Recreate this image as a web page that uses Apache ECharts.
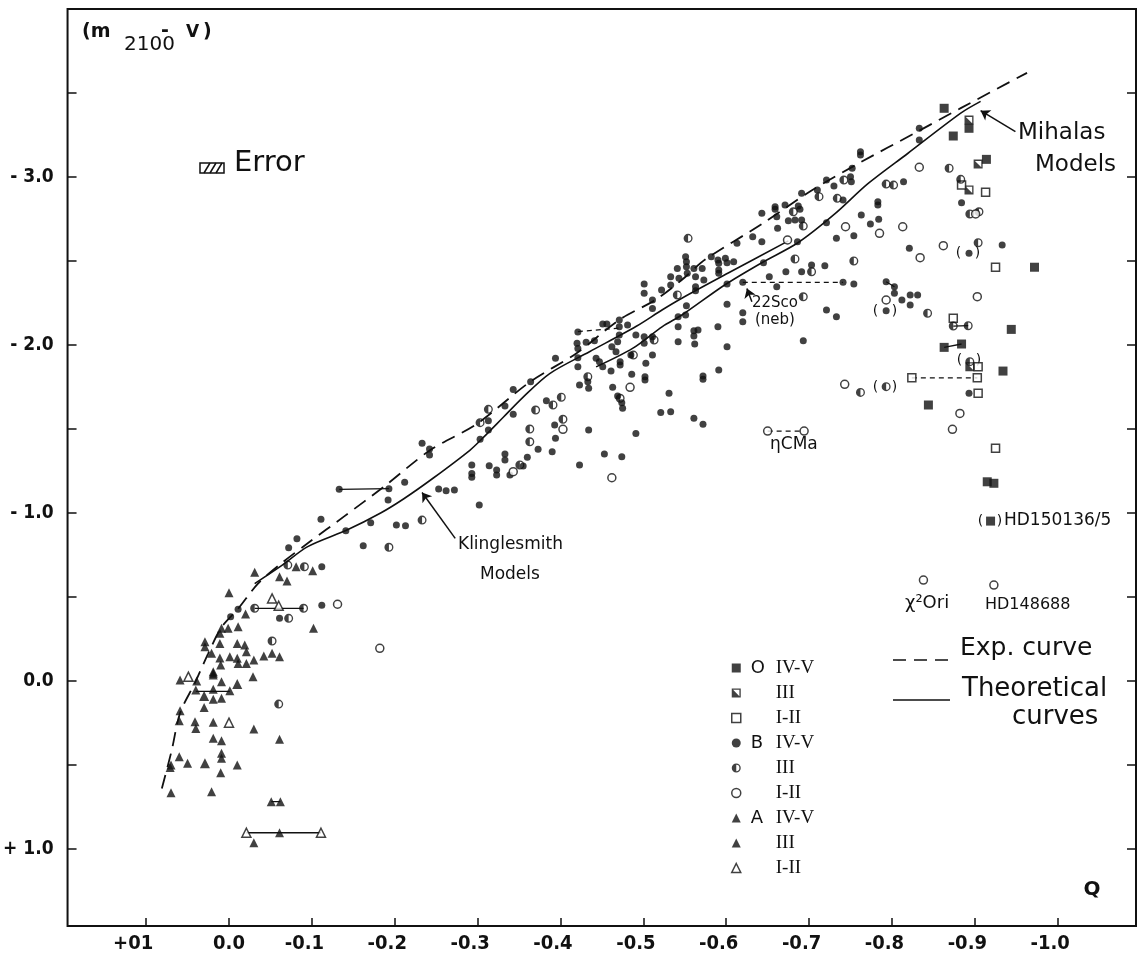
<!DOCTYPE html>
<html>
<head>
<meta charset="utf-8">
<script src="https://cdn.jsdelivr.net/npm/echarts@6/dist/echarts.min.js"></script>
<style>
html, body { margin: 0; padding: 0; background: #fff; }
#chart { width: 1148px; height: 960px; }
</style>
</head>
<body>
<div id="chart"></div>
<script>
// axis ticks
const xTickValues = [0.1, 0, -0.1, -0.2, -0.3, -0.4, -0.5, -0.6, -0.7, -0.8, -0.9, -1.0];
const xTickLabels = ['+01', '0.0', '-0.1', '-0.2', '-0.3', '-0.4', '-0.5', '-0.6', '-0.7', '-0.8', '-0.9', '-1.0'];
const yTickValues = [-3.5, -3.0, -2.5, -2.0, -1.5, -1.0, -0.5, 0, 0.5, 1.0];
const yLabelValues = [-3.0, -2.0, -1.0, 0, 1.0];
const yTickLabels = ['- 3.0', '- 2.0', '- 1.0', '0.0', '+ 1.0'];

// O stars  [Q, m2100-V]
const oDwarfs = [[-0.863,-3.409],[-0.874,-3.244],[-0.893,-3.290],[-0.914,-3.105],[-0.972,-2.463],[-0.944,-2.093],
  [-0.863,-1.986],[-0.884,-2.006],[-0.934,-1.845],[-0.844,-1.643],[-0.915,-1.186],[-0.923,-1.177],[-0.919,-0.952]];
const oGiants = [[-0.893,-3.339],[-0.904,-3.077],[-0.893,-2.923],[-0.894,-1.871]];
const oSupergiants = [[-0.884,-2.952],[-0.913,-2.909],[-0.925,-2.463],[-0.874,-2.159],[-0.904,-1.871],[-0.824,-1.805],
  [-0.903,-1.805],[-0.904,-1.713],[-0.925,-1.385]];

// B stars
const bDwarfs = [
  [-0.133,-1.141],[-0.193,-1.145],[-0.192,-1.077],[-0.111,-0.963],[-0.171,-0.942],[-0.202,-0.929],[-0.141,-0.895],
  [-0.082,-0.847],[-0.072,-0.793],[-0.162,-0.805],[-0.112,-0.680],[-0.112,-0.451],[-0.061,-0.373],[-0.002,-0.383],[-0.011,-0.427],
  [-0.212,-1.183],[-0.233,-1.415],[-0.242,-1.381],[-0.242,-1.345],[-0.213,-0.924],[-0.253,-1.143],[-0.262,-1.133],[-0.272,-1.137],
  [-0.302,-1.048],[-0.293,-1.286],[-0.293,-1.236],[-0.293,-1.213],[-0.314,-1.282],[-0.323,-1.256],[-0.323,-1.226],[-0.303,-1.439],
  [-0.313,-1.494],[-0.313,-1.549],
  [-0.333,-1.637],[-0.343,-1.736],[-0.364,-1.782],[-0.343,-1.588],[-0.383,-1.668],[-0.394,-1.921],[-0.421,-2.077],[-0.420,-2.010],
  [-0.421,-1.980],[-0.431,-2.016],[-0.441,-2.026],[-0.421,-1.924],[-0.421,-1.871],[-0.451,-2.125],[-0.456,-2.125],[-0.471,-2.149],
  [-0.471,-2.109],[-0.481,-2.119],[-0.471,-2.060],[-0.469,-2.020],[-0.462,-1.990],[-0.467,-1.960],[-0.443,-1.921],[-0.447,-1.901],
  [-0.451,-1.871],[-0.433,-1.782],[-0.434,-1.742],[-0.423,-1.762],[-0.472,-1.901],[-0.472,-1.881],[-0.485,-1.940],[-0.461,-1.845],
  [-0.486,-1.826],[-0.463,-1.748],[-0.502,-1.811],[-0.502,-1.792],[-0.501,-2.049],[-0.501,-2.010],[-0.491,-2.060],[-0.511,-2.049],
  [-0.511,-1.940],[-0.501,-2.308],[-0.511,-2.268],[-0.501,-2.363],[-0.511,-2.218],[-0.522,-2.327],[-0.533,-2.407],[-0.543,-2.397],
  [-0.533,-2.357],[-0.542,-2.168],[-0.542,-2.109],[-0.542,-2.020],[-0.531,-1.713],[-0.521,-1.599],[-0.533,-1.603],[-0.491,-1.474],
  [-0.469,-1.696],[-0.474,-1.657],[-0.475,-1.623],[-0.434,-1.494],[-0.393,-1.524],[-0.394,-1.445],[-0.373,-1.379],[-0.390,-1.365],
  [-0.360,-1.332],[-0.333,-1.351],[-0.333,-1.315],[-0.355,-1.280],[-0.339,-1.226],[-0.423,-1.286],[-0.453,-1.351],[-0.474,-1.335],
  [-0.833,-3.290],[-0.833,-3.220],[-0.762,-3.151],[-0.762,-3.131],[-0.752,-3.052],[-0.750,-3.002],[-0.751,-2.972],[-0.721,-2.982],
  [-0.730,-2.946],[-0.741,-2.863],[-0.710,-2.923],[-0.691,-2.903],[-0.814,-2.972],[-0.783,-2.853],[-0.783,-2.833],[-0.763,-2.774],
  [-0.774,-2.720],[-0.784,-2.748],[-0.754,-2.651],[-0.733,-2.635],[-0.721,-2.728],[-0.821,-2.576],[-0.659,-2.823],[-0.659,-2.808],
  [-0.671,-2.833],[-0.643,-2.784],[-0.661,-2.764],[-0.687,-2.827],[-0.689,-2.808],[-0.675,-2.740],[-0.683,-2.744],[-0.691,-2.744],
  [-0.662,-2.695],[-0.686,-2.615],[-0.632,-2.645],[-0.643,-2.615],[-0.613,-2.605],[-0.582,-2.526],[-0.590,-2.506],[-0.591,-2.486],
  [-0.599,-2.516],[-0.601,-2.490],[-0.609,-2.496],[-0.551,-2.526],[-0.552,-2.496],[-0.552,-2.466],[-0.541,-2.456],[-0.563,-2.407],
  [-0.561,-2.456],[-0.571,-2.456],[-0.573,-2.387],[-0.553,-2.427],[-0.591,-2.446],[-0.591,-2.427],[-0.563,-2.347],[-0.563,-2.323],
  [-0.552,-2.234],[-0.551,-2.179],[-0.561,-2.085],[-0.566,-2.089],[-0.561,-2.054],[-0.562,-2.006],[-0.590,-2.109],[-0.601,-2.242],
  [-0.601,-1.990],[-0.591,-1.851],[-0.572,-1.815],[-0.645,-2.490],[-0.601,-2.363],[-0.652,-2.407],[-0.620,-2.373],[-0.661,-2.347],
  [-0.672,-2.436],[-0.691,-2.436],[-0.703,-2.476],[-0.719,-2.472],[-0.741,-2.373],[-0.754,-2.363],[-0.620,-2.192],[-0.620,-2.139],
  [-0.721,-2.208],[-0.733,-2.168],[-0.693,-2.026],[-0.793,-2.377],[-0.803,-2.347],[-0.803,-2.308],[-0.793,-2.204],[-0.812,-2.268],
  [-0.822,-2.298],[-0.822,-2.238],[-0.831,-2.298],
  [-0.884,-2.847],[-0.893,-2.546],[-0.933,-2.595],[-0.893,-1.713],
  [-0.561,-1.564],[-0.572,-1.528],[-0.572,-1.796],[-0.503,-1.891]];
const bGiants = [
  [-0.060,0.137],[-0.193,-0.796],[-0.071,-0.690],[-0.091,-0.680],[-0.031,-0.433],[-0.090,-0.433],[-0.072,-0.373],[-0.052,-0.238],
  [-0.233,-0.958],[-0.303,-1.538],[-0.313,-1.617],
  [-0.370,-1.613],[-0.391,-1.643],[-0.401,-1.689],[-0.433,-1.811],[-0.513,-2.030],[-0.541,-2.298],[-0.472,-1.683],[-0.403,-1.558],
  [-0.363,-1.500],[-0.363,-1.424],[-0.351,-1.286],[-0.488,-1.940],
  [-0.742,-2.982],[-0.734,-2.873],[-0.712,-2.883],[-0.793,-2.958],[-0.802,-2.952],[-0.681,-2.793],[-0.693,-2.708],[-0.554,-2.635],
  [-0.683,-2.512],[-0.703,-2.436],[-0.754,-2.500],[-0.693,-2.287],[-0.843,-2.189],
  [-0.869,-3.052],[-0.883,-2.986],[-0.894,-2.780],[-0.905,-2.793],[-0.904,-2.609],[-0.874,-2.113],[-0.892,-2.115],[-0.894,-1.901],
  [-0.762,-1.718],[-0.793,-1.752]];
const bSupergiants = [
  [-0.131,-0.457],[-0.182,-0.195],[-0.403,-1.498],[-0.343,-1.246],[-0.484,-1.748],[-0.462,-1.210],
  [-0.833,-3.058],[-0.785,-2.665],[-0.813,-2.704],[-0.744,-2.704],[-0.834,-2.520],[-0.862,-2.591],[-0.674,-2.625],[-0.793,-2.268],
  [-0.901,-2.780],[-0.903,-2.288],[-0.882,-1.593],[-0.873,-1.498],
  [-0.743,-1.766],[-0.650,-1.488],[-0.694,-1.488],[-0.838,-0.601],[-0.923,-0.571]];

// A stars
const aDwarfs = [
  [0.021,-0.165],[0.011,-0.137],[0.010,-0.095],[-0.001,-0.145],[-0.010,-0.135],[-0.011,-0.105],[-0.021,-0.174],[-0.021,-0.105],
  [-0.030,-0.125],[-0.042,-0.149],[-0.052,-0.165],[-0.061,-0.145],[0.019,-0.055],[0.019,-0.036],[-0.029,-0.026],[0.059,-0.006],
  [0.039,0.000],[0.009,0.004],[0.040,0.054],[0.019,0.049],[-0.001,0.058],[0.019,0.109],[0.009,0.103],
  [0.030,0.157],[0.059,0.177],[0.060,0.236],[0.041,0.242],[0.040,0.282],[0.019,0.246],[-0.030,0.286],[0.019,0.341],[0.009,0.355],
  [-0.061,0.347],[0.009,0.430],[0.009,0.460],[0.060,0.451],[0.050,0.490],[0.070,0.500],[0.071,0.514],[-0.010,0.500],
  [0.010,0.546],[0.070,0.665],[0.021,0.659],[-0.051,0.718],[-0.062,0.718],[-0.061,0.903],[-0.030,0.963],
  [-0.081,-0.680],[-0.101,-0.657],[-0.061,-0.621],[-0.070,-0.595],[-0.031,-0.647],[0.000,-0.526],[-0.020,-0.399],[-0.011,-0.323],
  [0.009,-0.314],[0.001,-0.314],[-0.102,-0.314],[0.029,-0.234],[0.029,-0.204],[0.011,-0.284],[0.011,-0.224],[-0.010,-0.224],
  [-0.019,-0.214],[0.019,-0.046]];
const aGiants = [[0.029,0.490],[0.030,0.089],[-0.010,0.018]];
const aSupergiants = [[0.049,-0.026],[0.000,0.248],[-0.052,-0.492],[-0.060,-0.448],[-0.021,0.903],[-0.111,0.903]];

// curves
const expCurve = [[0.081,0.64],[0.069,0.41],[0.059,0.19],[0.041,0.01],[0.025,-0.165],[0.009,-0.32],[-0.011,-0.43],
  [-0.035,-0.58],[-0.063,-0.70],[-0.095,-0.82],[-0.139,-0.98],[-0.187,-1.157],[-0.243,-1.375],[-0.299,-1.53],[-0.363,-1.78],
  [-0.419,-1.95],[-0.471,-2.15],[-0.515,-2.27],[-0.547,-2.39],[-0.575,-2.51],[-0.643,-2.72],[-0.703,-2.92],[-0.763,-3.09],
  [-0.827,-3.26],[-0.883,-3.41],[-0.963,-3.62]];
const klinglesmithCurve = [[-0.031,-0.58],[-0.063,-0.685],[-0.095,-0.80],[-0.143,-0.90],[-0.183,-1.0],[-0.211,-1.085],
  [-0.247,-1.21],[-0.291,-1.375],[-0.307,-1.45],[-0.331,-1.57],[-0.355,-1.69],[-0.387,-1.83],[-0.435,-1.96],[-0.491,-2.11],
  [-0.523,-2.21],[-0.547,-2.28],[-0.603,-2.43],[-0.675,-2.62]];
const mihalasCurve = [[-0.443,-1.87],[-0.487,-1.98],[-0.523,-2.11],[-0.547,-2.18],[-0.599,-2.36],[-0.643,-2.49],[-0.687,-2.61],
  [-0.731,-2.78],[-0.771,-2.96],[-0.819,-3.14],[-0.883,-3.38],[-0.907,-3.45]];

// ties between measurements of the same star
const tieLines = [
  [[-0.133,-1.141],[-0.193,-1.145]], [[-0.031,-0.433],[-0.090,-0.433]], [[0.040,0.062],[-0.001,0.062]],
  [[-0.051,0.718],[-0.062,0.718]], [[-0.021,0.903],[-0.111,0.903]], [[-0.793,-2.377],[-0.803,-2.347]],
  [[-0.874,-2.113],[-0.892,-2.115]], [[-0.863,-1.986],[-0.884,-2.006]]];
const dashedTies = [
  [[-0.620,-2.373],[-0.741,-2.373]], [[-0.421,-2.08],[-0.470,-2.10]], [[-0.650,-1.488],[-0.694,-1.488]],
  [[-0.824,-1.805],[-0.903,-1.805]]];
const arrows = [
  [[-0.273,-0.849],[-0.233,-1.122]],
  [[-0.949,-3.270],[-0.907,-3.395]],
  [[-0.631,-2.258],[-0.625,-2.337]]];

const halfCircle = 'path://M10,0A10,10,0,1,1,10,20A10,10,0,1,1,10,0ZM10,3A7,7,0,1,0,10,17A7,7,0,1,0,10,3ZM10,3A7,7,0,0,0,10,17Z';
const halfSquare = 'path://M0,0L20,0L20,20L0,20ZM3,3L3,17L17,17L17,3ZM3,3L3,17L17,17Z';
const ink = '#111';
const openStyle = { color: '#fff', borderColor: ink, borderWidth: 1.5 };

function joinSegments(segs) {
  let out = [];
  segs.forEach(function (s, i) {
    if (i > 0) out.push('-');
    out.push(s[0], s[1]);
  });
  return out;
}

function pickLabel(values, labels, v) {
  for (let i = 0; i < values.length; i++) {
    if (Math.abs(values[i] - v) < 1e-6) return labels[i];
  }
  return '';
}

const legendText = {
  'O IV-V': '{g|O}{r|IV-V}', 'O III': '{g| }{r|III}', 'O I-II': '{g| }{r|I-II}',
  'B IV-V': '{g|B}{r|IV-V}', 'B III': '{g| }{r|III}', 'B I-II': '{g| }{r|I-II}',
  'A IV-V': '{g|A}{r|IV-V}', 'A III': '{g| }{r|III}', 'A I-II': '{g| }{r|I-II}'
};

let myChart = echarts.init(document.getElementById('chart'));
let lab = { fill: ink, fontFamily: 'DejaVu Sans' };

let option = {
  animation: false,
  backgroundColor: '#fff',
  grid: { left: 62, right: 12, top: 9, bottom: 34, show: true, borderColor: ink, borderWidth: 2 },
  xAxis: {
    type: 'value', inverse: true, min: -1.0945, max: 0.1948,
    axisLine: { show: false, onZero: false }, splitLine: { show: false },
    axisTick: { inside: true, length: 8, lineStyle: { color: ink, width: 1.5 }, customValues: xTickValues },
    axisLabel: {
      customValues: xTickValues, margin: 8, color: ink, fontSize: 20, fontWeight: 'bold',
      fontFamily: 'DejaVu Sans Condensed',
      formatter: function (v) {
        let t = pickLabel(xTickValues, xTickLabels, v);
        if (t.charAt(0) === '+') return '{p|' + t + '}';
        if (t.charAt(0) === '-') return '{n|' + t + '}';
        return t;
      },
      rich: {
        p: { padding: [0, 26, 0, 0], fontSize: 20, fontWeight: 'bold', fontFamily: 'DejaVu Sans Condensed', color: ink },
        n: { padding: [0, 15, 0, 0], fontSize: 20, fontWeight: 'bold', fontFamily: 'DejaVu Sans Condensed', color: ink }
      }
    }
  },
  yAxis: [{
    type: 'value', inverse: true, min: -4.0, max: 1.458,
    axisLine: { show: false, onZero: false }, splitLine: { show: false },
    axisTick: { inside: true, length: 9, lineStyle: { color: ink, width: 1.5 }, customValues: yTickValues },
    axisLabel: {
      customValues: yLabelValues, margin: 14, color: ink, fontSize: 19, fontWeight: 'bold',
      fontFamily: 'DejaVu Sans Condensed',
      formatter: function (v) { return pickLabel(yLabelValues, yTickLabels, v); }
    }
  }, {
    type: 'value', inverse: true, min: -4.0, max: 1.458, position: 'right',
    axisLine: { show: false, onZero: false }, splitLine: { show: false }, axisLabel: { show: false },
    axisTick: { inside: true, length: 9, lineStyle: { color: ink, width: 1.5 }, customValues: yTickValues }
  }],
  legend: {
    orient: 'vertical', left: 726, top: 653, itemWidth: 9, itemHeight: 9, itemGap: 5,
    selectedMode: false,
    data: [
      { name: 'O IV-V' }, { name: 'O III' }, { name: 'O I-II', itemStyle: openStyle },
      { name: 'B IV-V' }, { name: 'B III' }, { name: 'B I-II', itemStyle: openStyle },
      { name: 'A IV-V' }, { name: 'A III' }, { name: 'A I-II', itemStyle: openStyle }
    ],
    formatter: function (name) { return legendText[name]; },
    textStyle: {
      color: ink, lineHeight: 20,
      rich: {
        g: { width: 25, padding: [0, 0, 0, 5], fontFamily: 'DejaVu Sans', fontSize: 18, lineHeight: 20, color: ink },
        r: { fontFamily: 'Liberation Serif', fontSize: 19, lineHeight: 20, color: ink }
      }
    }
  },
  series: [
    { name: 'Exp. curve', type: 'line', data: expCurve, smooth: 0.3, showSymbol: false, z: 1,
      lineStyle: { color: ink, width: 1.8, type: [14, 8] } },
    { name: 'Klinglesmith', type: 'line', data: klinglesmithCurve, smooth: 0.3, showSymbol: false, z: 1,
      lineStyle: { color: ink, width: 1.6 } },
    { name: 'Mihalas', type: 'line', data: mihalasCurve, smooth: 0.3, showSymbol: false, z: 1,
      lineStyle: { color: ink, width: 1.6 } },
    { name: 'ties', type: 'line', data: joinSegments(tieLines), connectNulls: false, showSymbol: false, z: 1,
      lineStyle: { color: ink, width: 1.3 } },
    { name: 'dashed ties', type: 'line', data: joinSegments(dashedTies), connectNulls: false, showSymbol: false, z: 1,
      lineStyle: { color: ink, width: 1.3, type: [5, 4] } },
    { name: 'arrows', type: 'lines', coordinateSystem: 'cartesian2d', z: 1,
      symbol: ['none', 'arrow'], symbolSize: 9,
      data: arrows.map(function (a) { return { coords: a }; }),
      lineStyle: { color: ink, width: 1.5, opacity: 1 } },
    { name: 'O IV-V', type: 'scatter', data: oDwarfs, symbol: 'rect', symbolSize: 9, itemStyle: { color: ink }, z: 3 },
    { name: 'O III', type: 'scatter', data: oGiants, symbol: halfSquare, symbolSize: 9, itemStyle: { color: ink }, z: 3 },
    { name: 'O I-II', type: 'scatter', data: oSupergiants, symbol: 'rect', symbolSize: 8, itemStyle: openStyle, z: 3 },
    { name: 'B IV-V', type: 'scatter', data: bDwarfs, symbol: 'circle', symbolSize: 7, itemStyle: { color: ink }, z: 3 },
    { name: 'B III', type: 'scatter', data: bGiants, symbol: halfCircle, symbolSize: 9, itemStyle: { color: ink }, z: 3 },
    { name: 'B I-II', type: 'scatter', data: bSupergiants, symbol: 'circle', symbolSize: 8, itemStyle: openStyle, z: 3 },
    { name: 'A IV-V', type: 'scatter', data: aDwarfs, symbol: 'triangle', symbolSize: 9, itemStyle: { color: ink }, z: 3 },
    { name: 'A III', type: 'scatter', data: aGiants, symbol: 'triangle', symbolSize: 10, itemStyle: { color: ink }, z: 3 },
    { name: 'A I-II', type: 'scatter', data: aSupergiants, symbol: 'triangle', symbolSize: 9, itemStyle: openStyle, z: 3 }
  ],
  graphic: [
    { type: 'text', left: 82, top: 23, style: Object.assign({ text: '(m', fontSize: 19, fontWeight: 'bold' }, lab) },
    { type: 'text', left: 124, top: 35, style: Object.assign({ text: '2100', fontSize: 20 }, lab) },
    { type: 'text', left: 161, top: 22, style: Object.assign({ text: '-', fontSize: 19, fontWeight: 'bold' }, lab) },
    { type: 'text', left: 186, top: 24, style: Object.assign({ text: 'V', fontSize: 17, fontWeight: 'bold' }, lab) },
    { type: 'text', left: 203, top: 23, style: Object.assign({ text: ')', fontSize: 19, fontWeight: 'bold' }, lab) },
    { type: 'rect', shape: { x: 200, y: 163, width: 24, height: 10 }, style: { fill: '#fff', stroke: ink, lineWidth: 1.5 } },
    { type: 'polyline', shape: { points: [[204, 173], [210, 163]] }, style: { stroke: ink, lineWidth: 1.5 } },
    { type: 'polyline', shape: { points: [[210, 173], [216, 163]] }, style: { stroke: ink, lineWidth: 1.5 } },
    { type: 'polyline', shape: { points: [[216, 173], [222, 163]] }, style: { stroke: ink, lineWidth: 1.5 } },
    { type: 'text', left: 234, top: 149, style: Object.assign({ text: 'Error', fontSize: 29 }, lab) },
    { type: 'text', left: 1018, top: 122, style: Object.assign({ text: 'Mihalas', fontSize: 23 }, lab) },
    { type: 'text', left: 1035, top: 154, style: Object.assign({ text: 'Models', fontSize: 23 }, lab) },
    { type: 'text', left: 458, top: 536, style: Object.assign({ text: 'Klinglesmith', fontSize: 17 }, lab) },
    { type: 'text', left: 480, top: 566, style: Object.assign({ text: 'Models', fontSize: 17 }, lab) },
    { type: 'text', left: 752, top: 296, style: Object.assign({ text: '22Sco', fontSize: 15, fontFamily: 'DejaVu Sans Condensed' }, lab) },
    { type: 'text', left: 755, top: 313, style: Object.assign({ text: '(neb)', fontSize: 15, fontFamily: 'DejaVu Sans Condensed' }, lab) },
    { type: 'text', left: 770, top: 436, style: Object.assign({ text: '\u03b7CMa', fontSize: 17 }, lab) },
    { type: 'text', x: 885, y: 387, style: Object.assign({ text: '(   )', fontSize: 14, align: 'center', verticalAlign: 'middle' }, lab) },
    { type: 'text', x: 885, y: 311, style: Object.assign({ text: '(   )', fontSize: 14, align: 'center', verticalAlign: 'middle' }, lab) },
    { type: 'text', x: 968, y: 253, style: Object.assign({ text: '(   )', fontSize: 14, align: 'center', verticalAlign: 'middle' }, lab) },
    { type: 'text', x: 969, y: 360, style: Object.assign({ text: '(   )', fontSize: 14, align: 'center', verticalAlign: 'middle' }, lab) },
    { type: 'text', x: 990, y: 521, style: Object.assign({ text: '(   )', fontSize: 14, align: 'center', verticalAlign: 'middle' }, lab) },
    { type: 'text', left: 1004, top: 512, style: Object.assign({ text: 'HD150136/5', fontSize: 17, fontFamily: 'DejaVu Sans Condensed' }, lab) },
    { type: 'text', left: 905, top: 594, style: Object.assign({ text: '\u03c7\u00b2Ori', fontSize: 18, fontFamily: 'DejaVu Sans Condensed' }, lab) },
    { type: 'text', left: 985, top: 597, style: Object.assign({ text: 'HD148688', fontSize: 16, fontFamily: 'DejaVu Sans Condensed' }, lab) },
    { type: 'polyline', shape: { points: [[893, 660], [948, 660]] }, style: { stroke: ink, lineWidth: 1.5, lineDash: [13, 8] } },
    { type: 'text', left: 960, top: 636, style: Object.assign({ text: 'Exp. curve', fontSize: 25 }, lab) },
    { type: 'polyline', shape: { points: [[893, 700], [950, 700]] }, style: { stroke: ink, lineWidth: 1.5 } },
    { type: 'text', left: 962, top: 676, style: Object.assign({ text: 'Theoretical', fontSize: 26 }, lab) },
    { type: 'text', left: 1012, top: 704, style: Object.assign({ text: 'curves', fontSize: 26 }, lab) },
    { type: 'text', x: 1092, y: 890, style: Object.assign({ text: 'Q', fontSize: 20, fontWeight: 'bold', align: 'center', verticalAlign: 'middle' }, lab) }
  ]
};
myChart.setOption(option);
</script>
</body>
</html>
